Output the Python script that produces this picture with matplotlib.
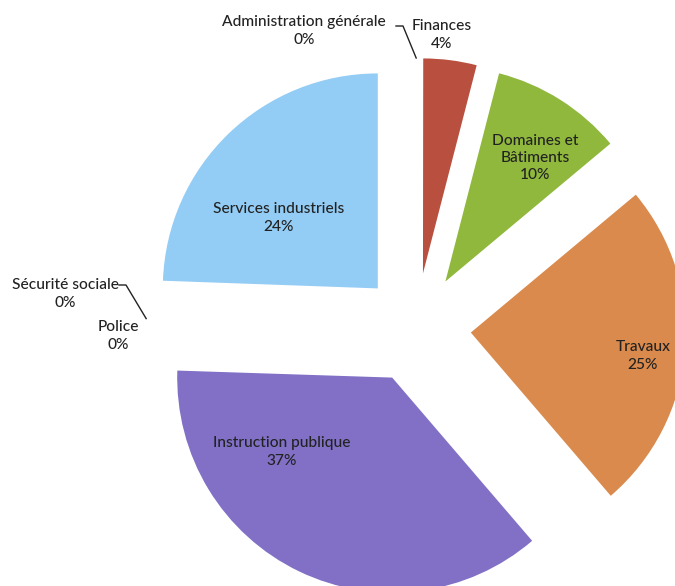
import numpy as np
import matplotlib.pyplot as plt

# budget shares (%), clockwise from 12 o'clock
categories = ["Administration générale", "Finances", "Domaines et\nBâtiments", "Travaux",
              "Instruction publique", "Police", "Sécurité sociale", "Services industriels"]
shares = [0.02, 4.0, 9.9, 24.8, 36.8, 0.02, 0.03, 24.43]
colors = ["#4f6fb0", "#b9503f", "#8fb83c", "#d98a4c", "#8170c6", "#5a5a9a", "#6a8a4a", "#93ccf4"]

W, H = 675, 586
fig = plt.figure(figsize=(W / 100, H / 100), dpi=100)
ax = fig.add_axes([0, 0, 1, 1])

# pie geometry in pixel units (y up)
cx, cy = 416, H - 328
R = 215
gap = 55

wedges, _ = ax.pie(shares, colors=colors, startangle=90, counterclock=False,
                   explode=[gap] * len(shares), radius=R, center=(cx, cy),
                   wedgeprops=dict(linewidth=0))
# empty slices leave no visible sliver in the original
for w, v in zip(wedges, shares):
    if v < 0.1:
        w.set_alpha(0)
ax.set_xlim(0, W)
ax.set_ylim(0, H)
ax.set_aspect('equal')
ax.axis('off')


def tip(w):
    # outer point of a wedge at its mid angle
    tm = np.deg2rad(0.5 * (w.theta1 + w.theta2))
    return w.center[0] + w.r * np.cos(tm), w.center[1] + w.r * np.sin(tm)


# label layout (pixel coords from top-left)
label_xy = [(304, 31), (442, 35), (535, 158), (643, 356),
            (282, 452), (118, 336), (65, 294), (279, 218)]

font = dict(family=['Lato', 'DejaVu Sans'], size=11.2, weight='medium', color='#222222')
for name, val, (x, y) in zip(categories, shares, label_xy):
    ax.text(x, H - y, f"{name}\n{val:.0f}%", ha='center', va='center',
            linespacing=1.3, **font)

# leader lines for the empty slices
tx, ty = tip(wedges[0])
ax.plot([396, 403, tx], [H - 26, H - 26, ty], color='#222222', lw=1)
tx, ty = tip(wedges[6])
ax.plot([119, 126, tx], [H - 285, H - 285, ty], color='#222222', lw=1)

plt.savefig('out.png', dpi=100)
